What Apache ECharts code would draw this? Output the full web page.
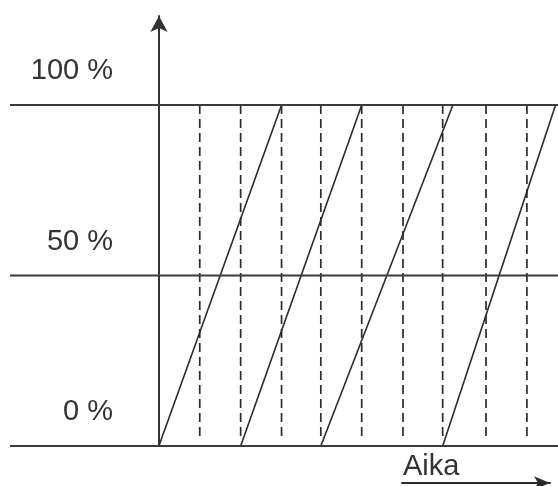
<!DOCTYPE html>
<html><head><meta charset="utf-8">
<script src="https://cdn.jsdelivr.net/npm/echarts@6/dist/echarts.min.js"></script>
<style>html,body{margin:0;padding:0;background:#fff}#c{width:558px;height:486px}</style>
</head><body><div id="c"></div>
<script>
// Reference levels (y, percent) and their labels
const levels = [0, 50, 100];
const levelLabels = ['0 %', '50 %', '100 %'];
// Dashed time markers (x, time units)
const dashX = [1, 2, 3, 3.96, 4.96, 5.97, 6.94, 8, 9];
// Sawtooth ramps: each rises from 0 % at start to 100 % at end
const rampStart = [0, 2, 3.96, 6.94];
const rampEnd = [3, 4.96, 7.19, 9.7];
const timeLabel = 'Aika';

const xMin = -3.64, xMax = 9.76, yMax = 126.1, dashBottom = 1.8;
const ink = '#2b2b2b';
const font = 'Liberation Sans';

const series = [];
levels.forEach(l => series.push({
  type: 'line', data: [[xMin, l], [xMax, l]], symbol: 'none', silent: true,
  lineStyle: { color: '#3a3a3a', width: 2 }, z: 3
}));
dashX.forEach(x => series.push({
  type: 'line', data: [[x, 100], [x, dashBottom]], symbol: 'none', silent: true,
  lineStyle: { color: ink, width: 1.7, type: [9, 5] }, z: 2
}));
rampStart.forEach((s, i) => series.push({
  type: 'line', data: [[s, 0], [rampEnd[i], 100]], symbol: 'none', silent: true,
  lineStyle: { color: ink, width: 1.6 }, z: 2
}));

const chart = echarts.init(document.getElementById('c'), null, { renderer: 'canvas' });
chart.setOption({
  animation: false,
  backgroundColor: '#fff',
  title: {
    text: timeLabel, left: 403, top: 452, padding: 0,
    textStyle: { fontSize: 29, fontWeight: 'normal', color: '#333', fontFamily: font }
  },
  grid: [
    { left: 10, right: 0, top: 16, bottom: 40, containLabel: false, outerBoundsMode: 'none' },
    { left: 402, right: 8, top: 470, bottom: 3, containLabel: false, outerBoundsMode: 'none' }
  ],
  xAxis: [
    { type: 'value', gridIndex: 0, min: xMin, max: xMax, show: false },
    { type: 'value', gridIndex: 1, min: 0, max: 1,
      axisLine: { show: true, onZero: false, symbol: ['none', 'arrow'], symbolSize: [10, 16], lineStyle: { color: ink, width: 2 } },
      axisTick: { show: false }, axisLabel: { show: false }, splitLine: { show: false } }
  ],
  yAxis: [
    { type: 'value', gridIndex: 0, min: 0, max: yMax, interval: 50, position: 'left', offset: -149,
      axisLine: { show: true, onZero: false, symbol: ['none', 'arrow'], symbolSize: [13, 16], lineStyle: { color: '#333', width: 2 } },
      axisTick: { show: false }, splitLine: { show: false },
      axisLabel: {
        show: true, margin: 46, color: '#333', fontSize: 29, fontFamily: font,
        verticalAlign: 'bottom', lineHeight: 68,
        formatter: v => { const i = levels.indexOf(v); return i >= 0 ? levelLabels[i] : ''; }
      } },
    { type: 'value', gridIndex: 1, show: false }
  ],
  series: series
});
</script></body></html>
